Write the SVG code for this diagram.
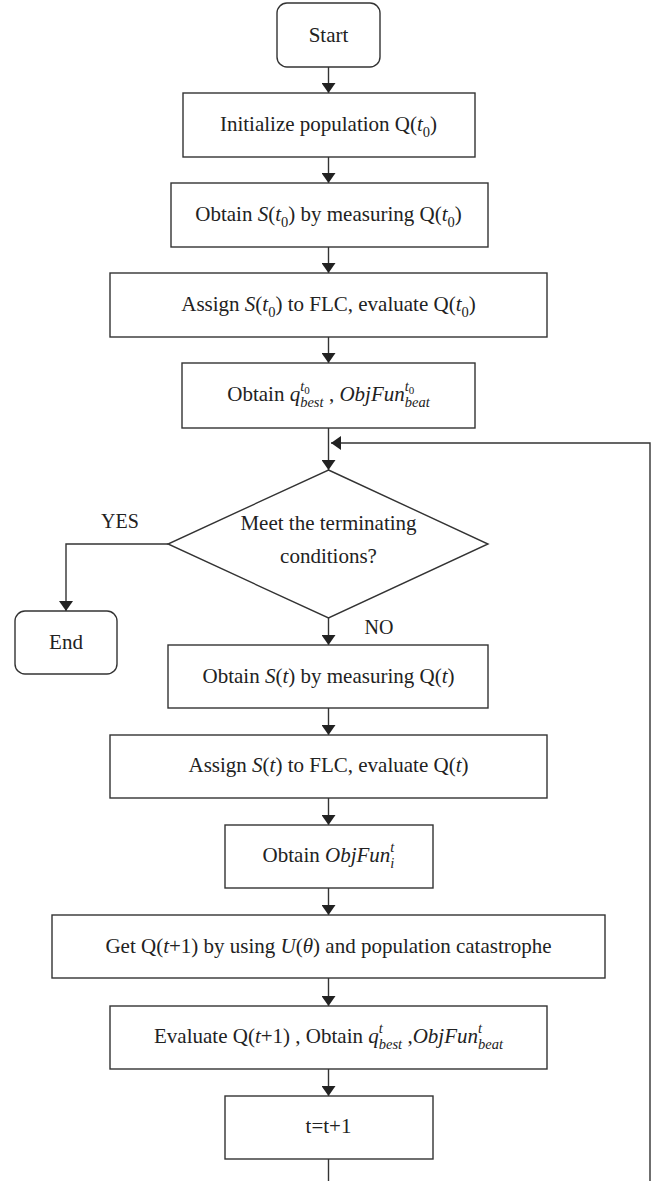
<svg xmlns="http://www.w3.org/2000/svg" width="665" height="1181" viewBox="0 0 665 1181">
<style>
.box{fill:#fff;stroke:#333;stroke-width:1.4}
.ln{fill:none;stroke:#333;stroke-width:1.4}
text{font-family:"Liberation Serif","Times New Roman",serif;font-size:21px;fill:#222}
.c{text-anchor:middle}
.i{font-style:italic}
.s{font-size:14.5px}
.ss{font-size:11px}
.lbl{font-size:20px}
</style>
<defs>
<marker id="ah" viewBox="0 0 10 14" refX="10" refY="7" markerWidth="10" markerHeight="14" markerUnits="userSpaceOnUse" orient="auto">
<path d="M0,0 L10,7 L0,14 Z" fill="#222"/>
</marker>
</defs>
<rect width="665" height="1181" fill="#fff"/>
<g id="connectors">
<line class="ln" x1="328.5" y1="67" x2="328.5" y2="93" marker-end="url(#ah)"/>
<line class="ln" x1="328.5" y1="157" x2="328.5" y2="183" marker-end="url(#ah)"/>
<line class="ln" x1="328.5" y1="247" x2="328.5" y2="273" marker-end="url(#ah)"/>
<line class="ln" x1="328.5" y1="337" x2="328.5" y2="363" marker-end="url(#ah)"/>
<line class="ln" x1="328.5" y1="428" x2="328.5" y2="470" marker-end="url(#ah)"/>
<polyline class="ln" points="650,1181 650,443 331,443" marker-end="url(#ah)"/>
<polyline class="ln" points="168,544 66,544 66,611" marker-end="url(#ah)"/>
<line class="ln" x1="328.5" y1="618" x2="328.5" y2="645" marker-end="url(#ah)"/>
<line class="ln" x1="328.5" y1="708" x2="328.5" y2="735" marker-end="url(#ah)"/>
<line class="ln" x1="328.5" y1="798" x2="328.5" y2="825" marker-end="url(#ah)"/>
<line class="ln" x1="328.5" y1="888" x2="328.5" y2="915" marker-end="url(#ah)"/>
<line class="ln" x1="328.5" y1="978" x2="328.5" y2="1006" marker-end="url(#ah)"/>
<line class="ln" x1="328.5" y1="1069" x2="328.5" y2="1096" marker-end="url(#ah)"/>
<line class="ln" x1="328.5" y1="1159" x2="328.5" y2="1181"/>
<text x="120" y="528" class="c lbl">YES</text>
<text x="379" y="634" class="c lbl">NO</text>
</g>
<g id="start">
<rect class="box" x="277" y="3" width="103" height="64" rx="10"/>
<text x="328.5" y="42" class="c">Start</text>
</g>
<g id="init">
<rect class="box" x="183" y="93" width="292" height="64"/>
<text x="328.5" y="131" class="c">Initialize population Q(<tspan class="i">t</tspan><tspan class="s" dy="6">0</tspan><tspan dy="-6">)</tspan></text>
</g>
<g id="measure0">
<rect class="box" x="171" y="183" width="317" height="64"/>
<text x="328.5" y="221" class="c">Obtain <tspan class="i">S</tspan>(<tspan class="i">t</tspan><tspan class="s" dy="6">0</tspan><tspan dy="-6">) by measuring Q(</tspan><tspan class="i">t</tspan><tspan class="s" dy="6">0</tspan><tspan dy="-6">)</tspan></text>
</g>
<g id="assign0">
<rect class="box" x="110" y="273" width="437" height="64"/>
<text x="328.5" y="311" class="c">Assign <tspan class="i">S</tspan>(<tspan class="i">t</tspan><tspan class="s" dy="6">0</tspan><tspan dy="-6">) to FLC, evaluate Q(</tspan><tspan class="i">t</tspan><tspan class="s" dy="6">0</tspan><tspan dy="-6">)</tspan></text>
</g>
<g id="best0">
<rect class="box" x="182" y="363" width="293" height="65"/>
<text x="328.5" y="401" class="c">Obtain <tspan class="i">q</tspan><tspan class="s i" dy="6">best</tspan><tspan class="s i" dx="-23.4" dy="-16">t</tspan><tspan class="ss" dy="3">0</tspan><tspan dx="14" dy="7"> , </tspan><tspan class="i">ObjFun</tspan><tspan class="s i" dy="6">beat</tspan><tspan class="s i" dx="-25" dy="-16">t</tspan><tspan class="ss" dy="3">0</tspan><tspan dx="15.5" dy="7"> </tspan></text>
</g>
<g id="decision">
<polygon class="box" points="328.5,470 488,544 328.5,618 168,544"/>
<text x="328.5" y="530" class="c">Meet the terminating</text>
<text x="328.5" y="563" class="c">conditions?</text>
</g>
<g id="end">
<rect class="box" x="15" y="611" width="102" height="63" rx="10"/>
<text x="66" y="649" class="c">End</text>
</g>
<g id="measure">
<rect class="box" x="168" y="645" width="320" height="63"/>
<text x="328.5" y="683" class="c">Obtain <tspan class="i">S</tspan>(<tspan class="i">t</tspan>) by measuring Q(<tspan class="i">t</tspan>)</text>
</g>
<g id="assign">
<rect class="box" x="110" y="735" width="437" height="63"/>
<text x="328.5" y="772" class="c">Assign <tspan class="i">S</tspan>(<tspan class="i">t</tspan>) to FLC, evaluate Q(<tspan class="i">t</tspan>)</text>
</g>
<g id="objfun">
<rect class="box" x="225" y="825" width="208" height="63"/>
<text x="328.5" y="862" class="c">Obtain <tspan class="i">ObjFun</tspan><tspan class="s i" dy="6">i</tspan><tspan class="s i" dx="-4" dy="-16">t</tspan><tspan dy="10"> </tspan></text>
</g>
<g id="update">
<rect class="box" x="52" y="915" width="553" height="63"/>
<text x="328.5" y="953" class="c">Get Q(<tspan class="i">t</tspan>+1) by using <tspan class="i">U</tspan>(<tspan class="i">θ</tspan>) and population catastrophe</text>
</g>
<g id="evaluate">
<rect class="box" x="110" y="1006" width="437" height="63"/>
<text x="328.5" y="1043" class="c">Evaluate Q(<tspan class="i">t</tspan>+1) , Obtain <tspan class="i">q</tspan><tspan class="s i" dy="6">best</tspan><tspan class="s i" dx="-23.4" dy="-16">t</tspan><tspan dx="19.4" dy="10"> ,</tspan><tspan class="i">ObjFun</tspan><tspan class="s i" dy="6">beat</tspan><tspan class="s i" dx="-25" dy="-16">t</tspan><tspan dx="21" dy="10"> </tspan></text>
</g>
<g id="increment">
<rect class="box" x="225" y="1096" width="208" height="63"/>
<text x="328.5" y="1133" class="c">t=t+1</text>
</g>
</svg>
